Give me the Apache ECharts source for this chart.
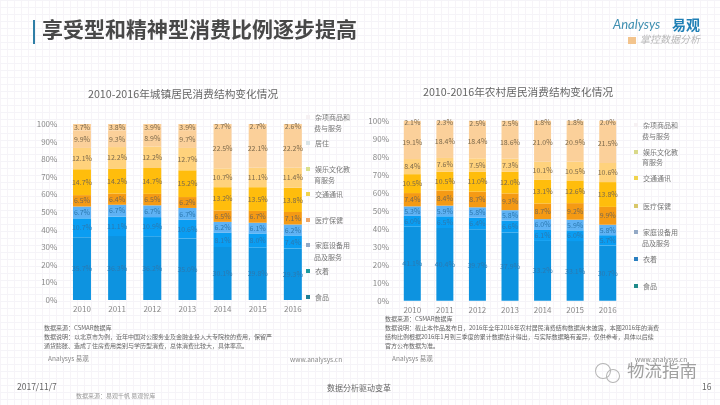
<!DOCTYPE html>
<html>
<head>
<meta charset="utf-8">
<style>
html, body { margin: 0; padding: 0; background: #fff; }
#main {
    width: 720px; height: 405px;
    background-image:
        linear-gradient(#f5f4f8 1px, transparent 1px),
        linear-gradient(90deg, #f7f4f8 1px, transparent 1px);
    background-size: 7px 7px;
}
</style>
<script src="https://cdn.jsdelivr.net/npm/echarts@6/dist/echarts.min.js"></script>
</head>
<body>
<div id="main"></div>
<script>
var years = ['2010', '2011', '2012', '2013', '2014', '2015', '2016'];
var names = ['食品', '衣着', '家庭设备用品及服务', '医疗保健', '交通通讯', '娱乐文化教育服务', '居住', '杂项商品和服务'];
var colors = ['#0d93e0', '#0a9df2', '#5fb2f4', '#f59a14', '#ffbd0c', '#ffd27c', '#fbd09a', '#fbd09a'];
var tickLabels = ['0%', '10%', '20%', '30%', '40%', '50%', '60%', '70%', '80%', '90%', '100%'];

// 城镇
var urbanFood = [35.7, 36.3, 36.2, 35.0, 30.1, 29.8, 29.3];
var urbanCloth = [10.7, 11.1, 10.9, 10.6, 8.1, 8.0, 7.4];
var urbanHome = [6.7, 6.7, 6.7, 6.7, 6.2, 6.1, 6.2];
var urbanMedical = [6.5, 6.4, 6.5, 6.2, 6.5, 6.7, 7.1];
var urbanTraffic = [14.7, 14.2, 14.7, 15.2, 13.2, 13.5, 13.8];
var urbanEdu = [12.1, 12.2, 12.2, 12.7, 10.7, 11.1, 11.4];
var urbanHouse = [9.9, 9.3, 8.9, 9.7, 22.5, 22.1, 22.2];
var urbanMisc = [3.7, 3.8, 3.9, 3.9, 2.7, 2.7, 2.6];

// 农村
var ruralFood = [41.1, 40.4, 39.7, 37.9, 33.2, 33.1, 30.7];
var ruralCloth = [6.0, 6.5, 6.4, 6.6, 6.1, 6.0, 5.7];
var ruralHome = [5.3, 5.9, 5.8, 5.8, 6.0, 5.9, 5.8];
var ruralMedical = [7.4, 8.4, 8.7, 9.3, 8.7, 9.2, 9.9];
var ruralTraffic = [10.5, 10.5, 11.0, 12.0, 13.1, 12.6, 13.8];
var ruralEdu = [8.4, 7.6, 7.5, 7.3, 10.1, 10.5, 10.6];
var ruralHouse = [19.1, 18.4, 18.4, 18.6, 21.0, 20.9, 21.5];
var ruralMisc = [2.1, 2.3, 2.5, 2.5, 1.8, 1.8, 2.0];

var urban = [urbanFood, urbanCloth, urbanHome, urbanMedical, urbanTraffic, urbanEdu, urbanHouse, urbanMisc];
var rural = [ruralFood, ruralCloth, ruralHome, ruralMedical, ruralTraffic, ruralEdu, ruralHouse, ruralMisc];

var chart = echarts.init(document.getElementById('main'));
var cjk = '"Noto Sans CJK SC", sans-serif';

function barSeries(values, idx, stack, axisIdx, width) {
    return {
        name: names[idx],
        type: 'bar',
        stack: stack,
        xAxisIndex: axisIdx,
        yAxisIndex: axisIdx,
        barWidth: width,
        itemStyle: { color: colors[idx] },
        label: {
            show: true,
            position: 'inside',
            fontSize: 7,
            fontFamily: cjk,
            color: idx < 3 ? '#2b79b0' : '#7d6a4c',
            formatter: function (p) { return p.value.toFixed(1) + '%'; }
        },
        data: values
    };
}

function xAxis(grid) {
    return {
        type: 'category', gridIndex: grid, data: years,
        axisLine: { show: false }, axisTick: { show: false },
        axisLabel: { fontSize: 8, color: '#8a8a8a', margin: 5 }
    };
}

function yAxis(grid) {
    return {
        type: 'value', gridIndex: grid, min: 0, max: 100, interval: 10,
        splitLine: { show: false }, axisLine: { show: false }, axisTick: { show: false },
        axisLabel: {
            fontSize: 8, color: '#8a8a8a', margin: 7,
            formatter: function (v) { return tickLabels[v / 10]; }
        }
    };
}

// 图例第一行用 legend，换行的部分放到 graphic
var legendLine = {
    '家庭设备用品及服务': '家庭设备用',
    '娱乐文化教育服务': '娱乐文化教',
    '杂项商品和服务': '杂项商品和'
};
var legendMarks = {
    '食品': '#1f7f95', '衣着': '#1f9aa0', '家庭设备用品及服务': '#93a9c6', '医疗保健': '#f0a566',
    '交通通讯': '#f0d44e', '娱乐文化教育服务': '#d9e08c', '居住': '#d9e4e8', '杂项商品和服务': '#f6f1f3'
};

function legendItem(name, x, y, mark) {
    return {
        left: x, top: y - 6, orient: 'vertical', padding: 0,
        itemWidth: 4, itemHeight: 4, itemGap: 0,
        icon: 'rect',
        selectedMode: false,
        data: [{ name: name, itemStyle: { color: mark || legendMarks[name] } }],
        textStyle: { fontSize: 7, color: '#777', fontFamily: cjk, height: 12, lineHeight: 12 },
        formatter: function (n) { return legendLine[n] || n; }
    };
}

function txt(x, y, text, size, color, extra) {
    var style = { text: text, fontSize: size, fill: color, fontFamily: cjk, textVerticalAlign: 'middle' };
    for (var k in extra) { style[k] = extra[k]; }
    return { type: 'text', left: x, top: y - size * 0.65, style: style };
}

option = {
    animation: false,
    textStyle: { fontFamily: cjk },
    title: [
        { text: '2010-2016年城镇居民消费结构变化情况', left: 88, top: 89, padding: 0, textStyle: { fontSize: 10.7, fontWeight: 'normal', color: '#666' } },
        { text: '2010-2016年农村居民消费结构变化情况', left: 423, top: 87, padding: 0, textStyle: { fontSize: 10.7, fontWeight: 'normal', color: '#666' } }
    ],
    grid: [
        { left: 64.4, top: 124, width: 246, height: 176 },
        { left: 396, top: 120.7, width: 228, height: 180 }
    ],
    xAxis: [xAxis(0), xAxis(1)],
    yAxis: [yAxis(0), yAxis(1)],
    legend: [
        legendItem('杂项商品和服务', 306, 117),
        legendItem('居住', 306, 143),
        legendItem('娱乐文化教育服务', 306, 169),
        legendItem('交通通讯', 306, 194),
        legendItem('医疗保健', 306, 220),
        legendItem('家庭设备用品及服务', 306, 245),
        legendItem('衣着', 306, 271),
        legendItem('食品', 306, 297),
        legendItem('杂项商品和服务', 634, 125),
        legendItem('娱乐文化教育服务', 634, 152, '#d9d98a'),
        legendItem('交通通讯', 634, 178),
        legendItem('医疗保健', 634, 206, '#d9c86a'),
        legendItem('家庭设备用品及服务', 634, 232),
        legendItem('衣着', 634, 259, '#2a7fc0'),
        legendItem('食品', 634, 286, '#1f8a8a')
    ],
    series: urban.map(function (v, i) { return barSeries(v, i, 'urban', 0, 18); })
        .concat(rural.map(function (v, i) { return barSeries(v, i, 'rural', 1, 17); })),
    graphic: [
        { type: 'rect', left: 33, top: 20, shape: { width: 2, height: 24 }, style: { fill: '#2f7fa6' } },
        txt(42, 32, '享受型和精神型消费比例逐步提高', 21, '#484848', { fontWeight: 'bold' }),
        txt(613, 27, 'Analysys', 13, '#3f8fb0', { fontStyle: 'italic', fontFamily: 'Lato' }),
        txt(672, 27, '易观', 14, '#1f7fb5', { fontWeight: 'bold' }),
        { type: 'rect', left: 628, top: 37, shape: { width: 8, height: 7 }, style: { fill: '#f3c48d' } },
        txt(640, 41, '掌控数据分析', 10, '#b8b8b8', { fontStyle: 'italic' }),

        // 图例换行
        txt(314, 129, '费与服务', 7, '#777'),
        txt(314, 181, '育服务', 7, '#777'),
        txt(314, 258, '品及服务', 7, '#777'),
        txt(642, 137, '费与服务', 7, '#777'),
        txt(642, 163, '育服务', 7, '#777'),
        txt(642, 244, '品及服务', 7, '#777'),

        // 注释
        txt(44, 329, '数据来源：CSMAR数据库', 6, '#666'),
        txt(44, 338, '数据说明：以北京市为例，近年中国对公服务业及金融业投入大专院校的费用，保留严', 6, '#666'),
        txt(44, 347, '通货膨胀、造成了住房费用类别与学历型消费，总体消费比较大，具体率高。', 6, '#666'),
        txt(48, 360, 'Analysys 易观', 6.5, '#888'),
        txt(290, 361, 'www.analysys.cn', 6.5, '#888'),
        txt(385, 320, '数据来源：CSMAR数据库', 6, '#666'),
        txt(385, 329, '数据说明：截止本作品发布日，2016年全年2016年农村居民消费结构数据尚未披露，本图2016年的消费', 6, '#666'),
        txt(385, 338, '结构比例根据2016年1月到三季度的累计数据估计得出，与实际数据略有差异，仅供参考，具体以后续', 6, '#666'),
        txt(385, 347, '官方公布数据为准。', 6, '#666'),
        txt(392, 360, 'Analysys 易观', 6.5, '#888'),
        txt(635, 361, 'www.analysys.cn', 6.5, '#888'),

        // 页脚
        txt(17, 388, '2017/11/7', 8.5, '#666'),
        txt(327, 389, '数据分析驱动变革', 8, '#666'),
        txt(702, 388, '16', 8.5, '#666'),
        txt(76, 397, '数据来源：易观千帆 易观智库', 6, '#999'),

        // 水印
        { type: 'ring', left: 595, top: 363, shape: { cx: 8, cy: 8, r: 8, r0: 7 }, style: { fill: '#b5b5b5' } },
        { type: 'ring', left: 606, top: 369, shape: { cx: 7, cy: 7, r: 7, r0: 6 }, style: { fill: '#b5b5b5' } },
        txt(627, 373, '物流指南', 17.5, '#a0a0a0')
    ]
};
chart.setOption(option);
</script>
</body>
</html>
